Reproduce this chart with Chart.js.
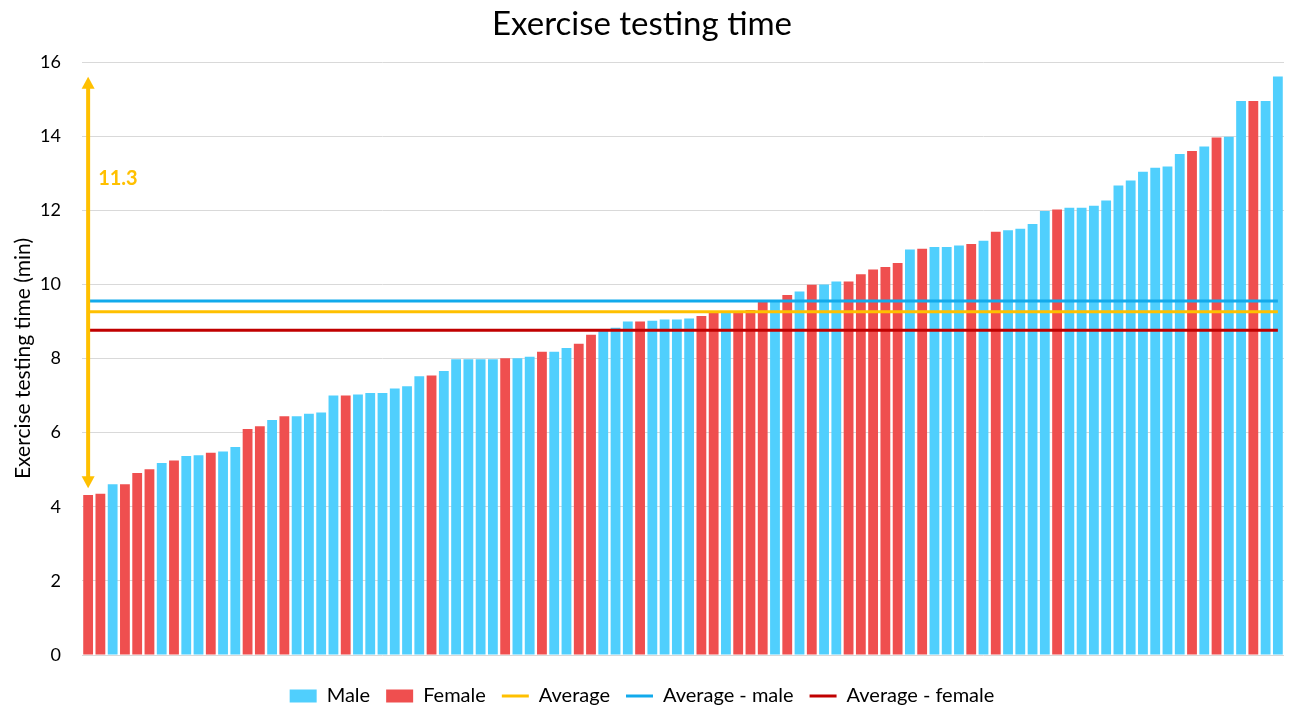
<!DOCTYPE html>
<html>
<head>
<meta charset="utf-8">
<script src="https://cdn.jsdelivr.net/npm/chart.js@4.4.1/dist/chart.umd.min.js"></script>
<style>
  html, body { margin: 0; padding: 0; background: #ffffff; }
  #wrap { width: 1290px; height: 707px; position: relative; }
</style>
</head>
<body>
<div id="wrap"><canvas id="c"></canvas></div>
<script>
// ---- data ----
const times = [4.32,4.35,4.61,4.61,4.91,5.01,5.18,5.25,5.37,5.39,
  5.46,5.49,5.61,6.10,6.17,6.34,6.44,6.44,6.51,6.54,
  7.00,7.00,7.03,7.07,7.07,7.19,7.25,7.52,7.54,7.66,
  7.98,7.98,7.98,7.98,8.01,8.01,8.05,8.18,8.18,8.28,
  8.40,8.64,8.74,8.83,9.00,9.00,9.02,9.05,9.05,9.08,
  9.15,9.23,9.24,9.24,9.31,9.53,9.57,9.71,9.81,9.99,
  10.00,10.08,10.08,10.27,10.40,10.47,10.58,10.94,10.96,11.01,
  11.01,11.05,11.09,11.18,11.42,11.46,11.50,11.63,11.98,12.02,
  12.07,12.07,12.12,12.26,12.67,12.80,13.04,13.15,13.18,13.52,
  13.60,13.72,13.96,13.98,14.95,14.95,14.95,15.61];
const sex = ['F','F','M','F','F','F','M','F','M','M',
  'F','M','M','F','F','M','F','M','M','M',
  'M','F','M','M','M','M','M','M','F','M',
  'M','M','M','M','F','M','M','F','M','M',
  'F','F','M','M','M','F','M','M','M','M',
  'F','F','M','F','F','F','M','F','M','F',
  'M','M','F','F','F','F','F','M','F','M',
  'M','M','F','M','F','M','M','M','M','F',
  'M','M','M','M','M','M','M','M','M','M',
  'F','M','F','M','M','F','M','M'];
const avgAll = 9.26;
const avgMale = 9.55;
const avgFemale = 8.76;
const yTicks = [0, 2, 4, 6, 8, 10, 12, 14, 16];
const arrowRange = [4.5, 15.6];
const arrowLabel = '11.3';
const arrowLabelAt = 12.85;

const labels = times.map((_, i) => String(i + 1));
const maleData = times.map((v, i) => sex[i] === 'M' ? v : null);
const femaleData = times.map((v, i) => sex[i] === 'F' ? v : null);

const FONT = 'Lato, "Open Sans", sans-serif';
const C_MALE = 'rgb(80,207,253)';
const C_FEMALE = 'rgb(239,79,79)';
const C_AVG = '#FFC000';
const C_AVGM = '#12AAEC';
const C_AVGF = '#C00000';

const arrowPlugin = {
  id: 'rangeArrow',
  afterDatasetsDraw(chart) {
    const {ctx, scales: {x, y}} = chart;
    const px = x.getPixelForValue(0);
    const yTop = y.getPixelForValue(arrowRange[1]);
    const yBot = y.getPixelForValue(arrowRange[0]);
    const head = 12, half = 6.5;
    ctx.save();
    ctx.strokeStyle = C_AVG;
    ctx.fillStyle = C_AVG;
    ctx.lineWidth = 4;
    ctx.beginPath();
    ctx.moveTo(px, yTop + head - 1);
    ctx.lineTo(px, yBot - head + 1);
    ctx.stroke();
    ctx.beginPath();
    ctx.moveTo(px, yTop); ctx.lineTo(px - half, yTop + head); ctx.lineTo(px + half, yTop + head); ctx.closePath();
    ctx.fill();
    ctx.beginPath();
    ctx.moveTo(px, yBot); ctx.lineTo(px - half, yBot - head); ctx.lineTo(px + half, yBot - head); ctx.closePath();
    ctx.fill();
    ctx.font = 'bold 20px ' + FONT;
    ctx.textAlign = 'left';
    ctx.textBaseline = 'middle';
    ctx.fillText(arrowLabel, px + 10, y.getPixelForValue(arrowLabelAt));
    ctx.restore();
  }
};

const lineDs = (label, value, color) => ({
  type: 'line',
  label,
  data: times.map(() => value),
  borderColor: color,
  backgroundColor: color,
  borderWidth: 3,
  pointRadius: 0,
  pointHoverRadius: 0,
  fill: false,
  order: 1,
  pointStyle: 'line'
});

new Chart(document.getElementById('c'), {
  type: 'bar',
  data: {
    labels,
    datasets: [
      { label: 'Male', data: maleData, backgroundColor: C_MALE, grouped: false, order: 2,
        barPercentage: 0.8, categoryPercentage: 1.0, pointStyle: 'rect' },
      { label: 'Female', data: femaleData, backgroundColor: C_FEMALE, grouped: false, order: 2,
        barPercentage: 0.8, categoryPercentage: 1.0, pointStyle: 'rect' },
      lineDs('Average', avgAll, C_AVG),
      lineDs('Average - male', avgMale, C_AVGM),
      lineDs('Average - female', avgFemale, C_AVGF)
    ]
  },
  options: {
    responsive: true,
    maintainAspectRatio: false,
    animation: false,
    layout: { padding: { left: 0, right: 6, top: 0, bottom: -9 } },
    plugins: {
      tooltip: { enabled: false },
      title: {
        display: true,
        text: 'Exercise testing time',
        color: '#000',
        font: { family: FONT, size: 33, weight: 'normal' },
        padding: { top: 5, bottom: 17.4 }
      },
      legend: {
        position: 'bottom',
        labels: {
          color: '#000',
          font: { family: FONT, size: 20 },
          usePointStyle: true,
          pointStyleWidth: 27,
          boxHeight: 13,
          padding: 16,
          sort: (a, b) => a.datasetIndex - b.datasetIndex,
          generateLabels(chart) {
            return chart.data.datasets.map((ds, i) => {
              const isLine = ds.type === 'line';
              return {
                text: ds.label,
                datasetIndex: i,
                fillStyle: isLine ? ds.borderColor : ds.backgroundColor,
                strokeStyle: isLine ? ds.borderColor : ds.backgroundColor,
                lineWidth: isLine ? 3 : 0,
                pointStyle: isLine ? 'line' : 'rect',
                fontColor: '#000',
                hidden: false
              };
            });
          }
        }
      }
    },
    scales: {
      x: {
        display: true,
        grid: { display: false },
        border: { display: false },
        ticks: { display: false },
        afterFit(scale) { scale.height = 15; }
      },
      y: {
        min: 0,
        max: 16,
        afterBuildTicks(scale) { scale.ticks = yTicks.map(v => ({ value: v })); },
        grid: { color: '#d9d9d9', lineWidth: 1, drawTicks: false },
        border: { display: false },
        ticks: { color: '#000', font: { family: FONT, size: 18 }, padding: 21 },
        title: {
          display: true,
          text: 'Exercise testing time (min)',
          color: '#000',
          font: { family: FONT, size: 21 },
          padding: { top: 11, bottom: 0 }
        },
        afterFit(scale) { scale.width = 82; }
      }
    }
  },
  plugins: [arrowPlugin]
});
</script>
</body>
</html>
